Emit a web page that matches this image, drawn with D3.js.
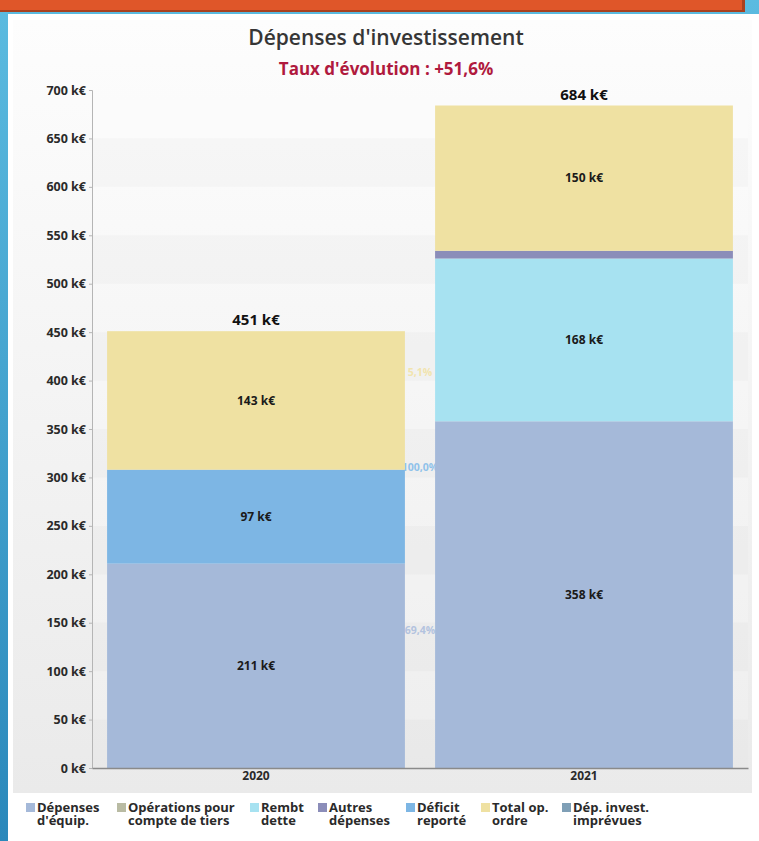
<!DOCTYPE html>
<html>
<head>
<meta charset="utf-8">
<script src="https://cdn.jsdelivr.net/npm/d3@7"></script>
<style>
body { margin:0; background:#fff; }
svg { display:block; }
</style>
</head>
<body>
<div id="chart"></div>
<script>
/*
* Dépenses d'investissement - stacked bars
*/
const years = ["2020", "2021"]
const seriesNames = ["Dépenses d'équip.", "Opérations pour compte de tiers", "Rembt dette", "Autres dépenses", "Déficit reporté", "Total op. ordre", "Dép. invest. imprévues"]
const legendLines = [["Dépenses", "d'équip."], ["Opérations pour", "compte de tiers"], ["Rembt", "dette"], ["Autres", "dépenses"], ["Déficit", "reporté"], ["Total op.", "ordre"], ["Dép. invest.", "imprévues"]]
const seriesColors = ["#a5b9d9", "#b9bba3", "#a7e2f1", "#8b8db9", "#7db6e4", "#efe1a2", "#7f9fb6"]

// values in k€, one per year
const equip = [211, 358]
const tiers = [0, 0]
const rembt = [0, 168]
const autres = [0, 8]
const deficit = [97, 0]
const ordre = [143, 150]
const imprevues = [0, 0]
const totals = [451, 684]

// growth labels drawn between the bars (mostly hidden behind 2021)
const growthText = ["69,4%", "100,0%", "5,1%"]
const growthAt = [142, 310, 408]
const growthColors = ["#b3c3df", "#8fc2ea", "#f1e4ae"]

const yTicks = d3.range(0, 701, 50)
const title = "Dépenses d'investissement"
const subtitle = "Taux d'évolution : +51,6%"

const W = 759, H = 841
const margin = { left:92, right:11, top:90, bottom:73 }
const width = W - margin.left - margin.right,
	height = H - margin.top - margin.bottom
const font = "'Open Sans', sans-serif"

const svg = d3.select("#chart")
	.append("svg")
		.attr("width", W)
		.attr("height", H)

const defs = svg.append("defs")
const blueGrad = defs.append("linearGradient").attr("id", "blueGrad").attr("x1", 0).attr("y1", 0).attr("x2", 0).attr("y2", 1)
blueGrad.append("stop").attr("offset", "0%").attr("stop-color", "#5bbbe0")
blueGrad.append("stop").attr("offset", "100%").attr("stop-color", "#2a88bb")
const bgGrad = defs.append("linearGradient").attr("id", "bgGrad").attr("x1", 0).attr("y1", 0).attr("x2", 0).attr("y2", 1)
bgGrad.append("stop").attr("offset", "0%").attr("stop-color", "#fdfdfd")
bgGrad.append("stop").attr("offset", "100%").attr("stop-color", "#eaeaea")

// frame around the slide
svg.append("rect").attr("width", W).attr("height", H).attr("fill", "url(#blueGrad)")
svg.append("rect").attr("x", 8).attr("y", 14).attr("width", W - 8).attr("height", H - 14).attr("fill", "#fff")
svg.append("rect").attr("x", 0).attr("y", 0).attr("width", 745).attr("height", 12).attr("fill", "#a9411f")
svg.append("rect").attr("x", 0).attr("y", 0).attr("width", 742).attr("height", 10).attr("fill", "#df5629")

// chart background
svg.append("rect").attr("x", 13).attr("y", 20).attr("width", 739).attr("height", 773).attr("fill", "url(#bgGrad)")

const g = svg.append("g")
	.attr("transform", `translate(${margin.left}, ${margin.top})`)

const x = d3.scaleBand()
	.domain(years)
	.range([0, width])
	.padding(0)

const y = d3.scaleLinear()
	.domain([0, 700])
	.range([height, 0])

const barW = x.bandwidth() * 0.908

// alternating bands
g.selectAll(".band")
	.data(yTicks.slice(0, -1))
	.enter().append("rect")
		.attr("x", 0)
		.attr("width", width)
		.attr("y", d => y(d + 50))
		.attr("height", d => y(d) - y(d + 50))
		.attr("fill", (d, i) => i % 2 ? "#ffffff" : "#e6e6e6")
		.attr("opacity", 0.18)

// growth labels, behind the bars
growthText.forEach((t, i) => {
	g.append("text")
		.attr("x", (x("2020") + x("2021") + x.bandwidth()) / 2)
		.attr("y", y(growthAt[i]))
		.attr("dy", "0.35em")
		.attr("text-anchor", "middle")
		.attr("font-family", font)
		.attr("font-weight", "bold")
		.attr("font-size", "10.5px")
		.attr("fill", growthColors[i])
		.text(t)
})

const valuesBySeries = [equip, tiers, rembt, autres, deficit, ordre, imprevues]
const table = years.map((yr, j) => {
	let row = { year: yr }
	seriesNames.forEach((s, k) => { row[s] = valuesBySeries[k][j] })
	return row
})
const stack = d3.stack().keys(seriesNames)(table)

const layers = g.selectAll(".layer")
	.data(stack)
	.enter().append("g")
		.attr("fill", (d, k) => seriesColors[k])

layers.selectAll("rect")
	.data(d => d)
	.enter().append("rect")
		.attr("x", d => x(d.data.year) + (x.bandwidth() - barW) / 2)
		.attr("width", barW)
		.attr("y", d => y(d[1]))
		.attr("height", d => y(d[0]) - y(d[1]))

// segment labels (only for the big ones)
stack.forEach(layer => {
	layer.forEach(d => {
		if (d[1] - d[0] < 40) return
		g.append("text")
			.attr("x", x(d.data.year) + x.bandwidth() / 2)
			.attr("y", y((d[0] + d[1]) / 2))
			.attr("dy", "0.35em")
			.attr("text-anchor", "middle")
			.attr("font-family", font)
			.attr("font-weight", "bold")
			.attr("font-size", "12px")
			.attr("fill", "#1a1a1a")
			.text(`${d[1] - d[0]} k€`)
	})
})

// totals
g.selectAll(".total")
	.data(totals)
	.enter().append("text")
		.attr("x", (d, j) => x(years[j]) + x.bandwidth() / 2)
		.attr("y", d => y(d) - 6)
		.attr("text-anchor", "middle")
		.attr("font-family", font)
		.attr("font-weight", "bold")
		.attr("font-size", "15px")
		.attr("fill", "#111")
		.text(d => `${d} k€`)

// axes
const yAxisCall = d3.axisLeft(y)
	.tickValues(yTicks)
	.tickSize(3)
	.tickFormat(d => `${d} k€`)
const yAxisGroup = g.append("g").call(yAxisCall)
yAxisGroup.select(".domain").attr("stroke", "#b5b5b5")
yAxisGroup.selectAll(".tick line").attr("stroke", "#b5b5b5")
yAxisGroup.selectAll("text")
	.attr("x", -6)
	.attr("font-family", font)
	.attr("font-weight", "bold")
	.attr("font-size", "12.5px")
	.attr("fill", "#2a2a2a")

const xAxisCall = d3.axisBottom(x).tickSize(0).tickPadding(3)
const xAxisGroup = g.append("g")
	.attr("transform", `translate(0, ${height})`)
	.call(xAxisCall)
xAxisGroup.select(".domain").attr("stroke", "#8a8a8a").attr("stroke-width", 1.5)
xAxisGroup.selectAll("text")
	.attr("font-family", font)
	.attr("font-weight", "bold")
	.attr("font-size", "12px")
	.attr("fill", "#2a2a2a")

// titles
svg.append("text")
	.attr("x", 386)
	.attr("y", 45)
	.attr("text-anchor", "middle")
	.attr("font-family", font)
	.attr("font-weight", 600)
	.attr("font-size", "21px")
	.attr("fill", "#363636")
	.text(title)

svg.append("text")
	.attr("x", 386)
	.attr("y", 75)
	.attr("text-anchor", "middle")
	.attr("font-family", font)
	.attr("font-weight", "bold")
	.attr("font-size", "17px")
	.attr("fill", "#b01a3e")
	.text(subtitle)

// legend
const legendX = [0, 91, 224, 292, 380, 455, 536]
const legend = svg.append("g").attr("transform", "translate(26, 803)")
legendLines.forEach((lines, k) => {
	const item = legend.append("g").attr("transform", `translate(${legendX[k]}, 0)`)
	item.append("rect")
		.attr("width", 9)
		.attr("height", 9)
		.attr("fill", seriesColors[k])
	const txt = item.append("text")
		.attr("font-family", font)
		.attr("font-weight", "bold")
		.attr("font-size", "13px")
		.attr("fill", "#2a2a2a")
	lines.forEach((l, n) => {
		txt.append("tspan").attr("x", 11).attr("y", 9 + n * 12.5).text(l)
	})
})
</script>
</body>
</html>
